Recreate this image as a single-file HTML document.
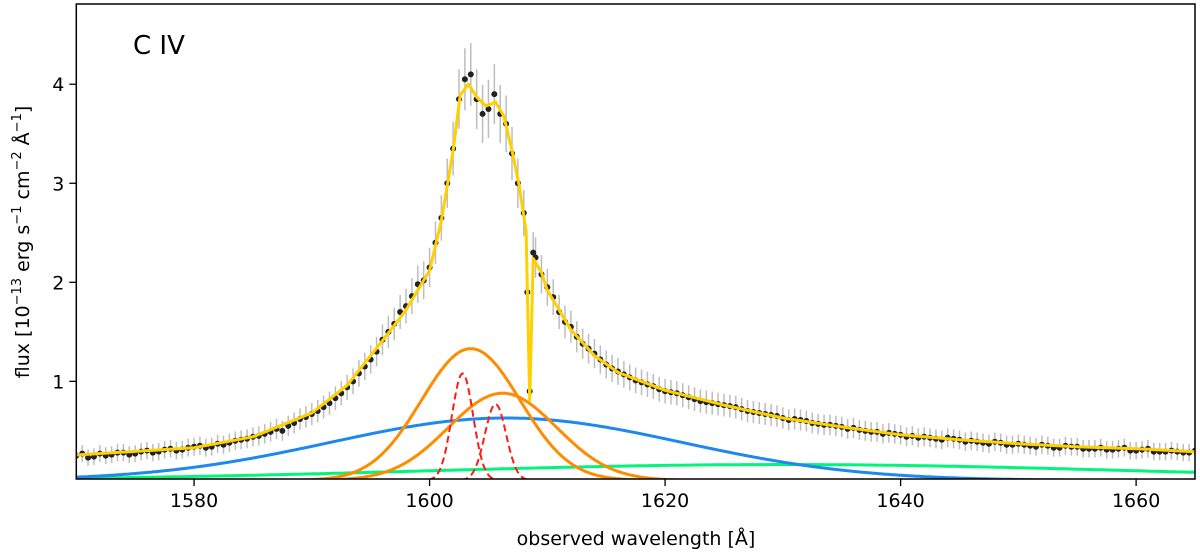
<!DOCTYPE html>
<html><head><meta charset="utf-8"><style>
html,body{margin:0;padding:0;background:#fff;}
svg{display:block;font-family:"DejaVu Sans","Liberation Sans",sans-serif;}
</style></head><body>
<svg id="chart" width="1200" height="554" viewBox="0 0 1200 554" xmlns="http://www.w3.org/2000/svg">
<g id="plot"></g>
<rect x="76.3" y="4" width="1118.7" height="475" fill="none" stroke="#000" stroke-width="1.5"/>
<g id="xticks"></g>
<g id="yticks"></g>
<text x="636" y="545" font-size="19" text-anchor="middle">observed wavelength [Å]</text>
<text transform="translate(29,242) rotate(-90)" font-size="19" text-anchor="middle">flux [10<tspan dy="-8" font-size="13">−13</tspan><tspan dy="8"> erg s</tspan><tspan dy="-8" font-size="13">−1</tspan><tspan dy="8"> cm</tspan><tspan dy="-8" font-size="13">−2</tspan><tspan dy="8"> Å</tspan><tspan dy="-8" font-size="13">−1</tspan><tspan dy="8">]</tspan></text>
<text x="133" y="54" font-size="26">C IV</text>
</svg>
<script>
const xTicks=[1580,1600,1620,1640,1660];
const yTicks=[1,2,3,4];
const modelWl=[1570,1580,1585,1590,1593,1596,1598,1600,1601,1602,1602.6,1603.3,1604,1604.8,1605.6,1606.3,1607,1607.6,1608.2,1608.5,1608.8,1609.5,1610,1612,1614,1616,1620,1625,1630,1635,1640,1645,1650,1655,1660,1665];
const modelFlux=[0.256,0.33,0.44,0.68,0.96,1.41,1.72,2.12,2.62,3.33,3.89,4.0,3.87,3.78,3.82,3.68,3.33,2.98,2.52,0.81,2.24,2.1,1.92,1.52,1.26,1.09,0.91,0.76,0.63,0.54,0.46,0.41,0.37,0.34,0.32,0.29];
const dataWl=[1570,1571,1572,1573,1574,1575,1576,1577,1578,1579,1580,1581,1582,1583,1584,1585,1586,1587,1588,1589,1590,1591,1592,1593,1594,1595,1595.5,1596,1596.5,1597,1597.5,1598,1598.5,1599,1599.5,1600,1600.5,1601,1601.5,1602,1602.5,1603,1603.5,1604,1604.5,1605,1605.5,1606,1606.5,1607,1607.5,1608,1608.3,1608.5,1608.8,1609,1609.5,1610,1610.5,1611,1611.5,1612,1613,1614,1615,1616,1617,1618,1619,1620,1621,1622,1623,1624,1625,1626,1627,1628,1629,1630,1631,1632,1633,1634,1635,1636,1637,1638,1639,1640,1641,1642,1643,1644,1645,1646,1647,1648,1649,1650,1651,1652,1653,1654,1655,1656,1657,1658,1659,1660,1661,1662,1663,1664,1665];
const dataFlux=[0.25,0.23,0.27,0.26,0.28,0.27,0.30,0.29,0.32,0.31,0.34,0.33,0.37,0.38,0.41,0.44,0.47,0.52,0.55,0.62,0.67,0.74,0.83,0.94,1.08,1.22,1.30,1.42,1.50,1.58,1.70,1.76,1.86,1.98,2.02,2.15,2.40,2.65,3.0,3.35,3.85,4.05,4.1,3.85,3.7,3.75,3.9,3.7,3.6,3.3,3.0,2.7,1.9,0.9,2.3,2.25,2.08,1.95,1.85,1.7,1.6,1.55,1.38,1.28,1.17,1.10,1.04,0.99,0.95,0.90,0.88,0.84,0.80,0.78,0.76,0.74,0.70,0.68,0.66,0.63,0.62,0.60,0.57,0.56,0.54,0.53,0.50,0.49,0.48,0.46,0.45,0.44,0.42,0.43,0.41,0.40,0.38,0.39,0.36,0.37,0.35,0.36,0.33,0.35,0.34,0.32,0.33,0.31,0.33,0.30,0.32,0.29,0.30,0.28,0.30];
const blueWingStart=1570.5;
const blueWingFlux=[0.27,0.24,0.25,0.28,0.26,0.29,0.28,0.31,0.30,0.33,0.35,0.34,0.36,0.40,0.42,0.45,0.49,0.50,0.58,0.64,0.70,0.78,0.88,1.0,1.15];
const redWingStart=1612.5;
const redWingFlux=[1.45,1.33,1.22,1.13,1.07,1.01,0.97,0.92,0.89,0.86,0.82,0.79,0.77,0.75,0.72,0.69,0.67,0.65,0.61,0.61,0.58,0.56,0.55,0.52,0.51,0.49,0.47,0.47,0.44,0.43,0.43,0.41,0.42,0.39,0.39,0.37,0.38,0.36,0.36,0.34,0.35,0.33,0.34,0.32,0.32,0.31,0.32,0.30,0.31,0.29,0.29,0.29,0.28];
const compNames=['green-broad','blue-broad','orange-1','orange-2','red-narrow-1','red-narrow-2'];
const compCenter=[1630,1606.5,1603.5,1606.2,1602.8,1605.6];
const compAmp=[0.16,0.63,1.33,0.88,1.08,0.77];
const compSigma=[30,15,4.2,4.6,0.9,0.9];
const compColor=['#00f57a','#1e88f0','#ff8c00','#ff8c00','#ff1a1a','#ff1a1a'];

const X0=76.3,X1=1195,Y0=479,Y1=4,XMIN=1570,XMAX=1665,YMIN=0.014,YMAX=4.81;
const xs=v=>X0+(v-XMIN)/(XMAX-XMIN)*(X1-X0);
const ys=v=>Y0-(v-YMIN)/(YMAX-YMIN)*(Y0-Y1);
const NS='http://www.w3.org/2000/svg';
function mk(tag,attrs,parent){const e=document.createElementNS(NS,tag);for(const k in attrs)e.setAttribute(k,attrs[k]);parent.appendChild(e);return e;}
const plot=document.getElementById('plot');
const clip=mk('clipPath',{id:'clp'},plot);
mk('rect',{x:X0,y:Y1,width:X1-X0,height:Y0-Y1},clip);
const g=mk('g',{'clip-path':'url(#clp)'},plot);
const allWl=dataWl.slice(), allFlux=dataFlux.slice();
blueWingFlux.forEach((f,i)=>{allWl.push(blueWingStart+i);allFlux.push(f);});
redWingFlux.forEach((f,i)=>{allWl.push(redWingStart+i);allFlux.push(f);});
for(let i=0;i<allWl.length;i++){
  const err=0.07+0.06*allFlux[i];
  const l=mk('line',{x1:xs(allWl[i]),x2:xs(allWl[i]),y1:ys(allFlux[i]-err),y2:ys(allFlux[i]+err),stroke:'#bdbdbd','stroke-width':1.5},g);
  
  
}
for(let i=0;i<allWl.length;i++){
  const c=mk('circle',{cx:xs(allWl[i]),cy:ys(allFlux[i]),r:3,fill:'#222'},g);
  
  
}
for(let k=0;k<compCenter.length;k++){
  let d='';
  for(let w=XMIN;w<=XMAX;w+=0.1){
    const v=compAmp[k]*Math.exp(-Math.pow(w-compCenter[k],2)/(2*compSigma[k]*compSigma[k]));
    d+=(d?'L':'M')+xs(w).toFixed(1)+','+ys(v).toFixed(1);
  }
  const p=mk('path',{d:d,fill:'none',stroke:compColor[k],'stroke-width':k>=4?2:3},g);
  if(k>=4)p.setAttribute('stroke-dasharray','7,4');
  
  
}
let md='';
for(let i=0;i<modelWl.length;i++)md+=(i?'L':'M')+xs(modelWl[i]).toFixed(1)+','+ys(modelFlux[i]).toFixed(1);
const mp=mk('path',{d:md,fill:'none',stroke:'#ffd000','stroke-width':3,'stroke-linejoin':'round'},g);


const xt=document.getElementById('xticks');
xTicks.forEach(t=>{
  const l=mk('line',{x1:xs(t),x2:xs(t),y1:Y0,y2:Y0+7,stroke:'#000','stroke-width':1.3},xt);
  
  
  const tx=mk('text',{x:xs(t),y:Y0+28,'font-size':19,'text-anchor':'middle'},xt);
  tx.textContent=t;
  
  
});
const yt=document.getElementById('yticks');
yTicks.forEach(t=>{
  const l=mk('line',{x1:X0-7,x2:X0,y1:ys(t),y2:ys(t),stroke:'#000','stroke-width':1.3},yt);
  
  
  const tx=mk('text',{x:X0-12,y:ys(t)+7,'font-size':19,'text-anchor':'end'},yt);
  tx.textContent=t;
  
  
});
</script>
</body></html>
